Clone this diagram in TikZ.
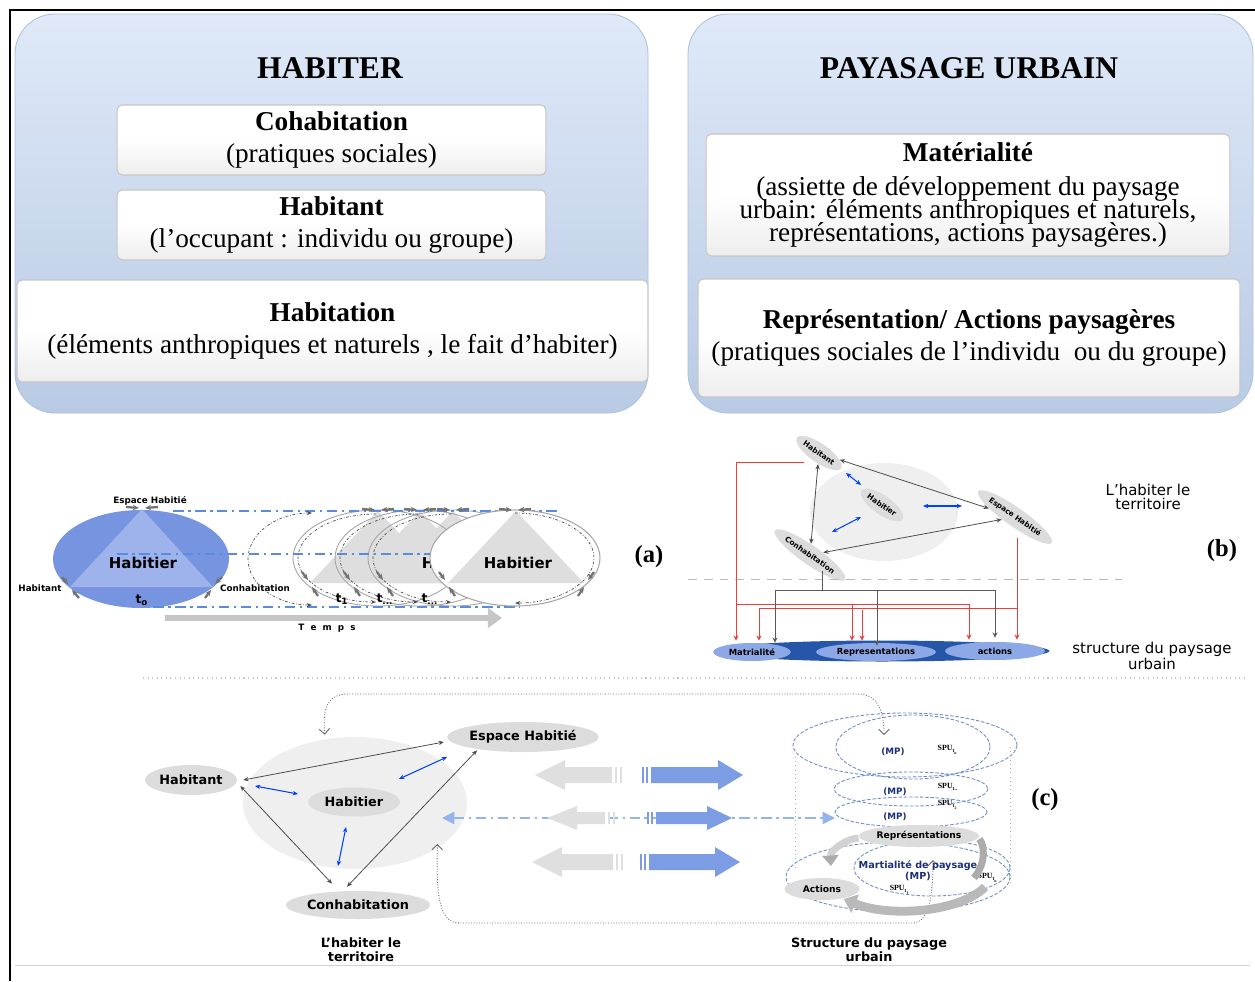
\documentclass[tikz,border=0pt]{standalone}
\usepackage{fontspec}
\setmainfont{Liberation Serif}
\newfontfamily\dejavu{DejaVu Sans}
\usetikzlibrary{arrows.meta,shapes.geometric,calc,positioning}

\definecolor{panelTop}{HTML}{DFE9F8}
\definecolor{panelBot}{HTML}{B9CAE4}
\definecolor{panelLine}{HTML}{AFC2DF}
\definecolor{ellBlue}{HTML}{7694DF}
\definecolor{triBlue}{HTML}{9EB2EB}
\definecolor{dashBlue}{HTML}{5A8BDF}
\definecolor{paleDash}{HTML}{94B4EC}
\definecolor{bigBlue}{HTML}{7C9CE4}
\definecolor{barBlue}{HTML}{2656A8}
\definecolor{subBlue}{HTML}{8DA8E6}
\definecolor{navyTxt}{HTML}{1B2F7A}
\definecolor{ovalGray}{HTML}{DCDCDC}
\definecolor{bgGray}{HTML}{EFEFEF}
\definecolor{triGray}{HTML}{DEDEDE}
\definecolor{redLine}{HTML}{E8403C}
\definecolor{spuBlue}{HTML}{6F8FC8}

\tikzset{
  panel/.style={rounded corners=0.8cm, top color=panelTop, bottom color=panelBot, draw=panelLine, line width=0.5pt},
  wbox/.style={rounded corners=3pt, top color=white, bottom color=gray!14, middle color=white, draw=gray!45, line width=0.6pt, align=center, font=\fontsize{15.5}{18}\selectfont},
  ptitle/.style={font=\bfseries\fontsize{18}{20}\selectfont},
  lblA/.style={font=\dejavu\bfseries\fontsize{5}{6}\selectfont, inner sep=1pt},
  hbrTxt/.style={font=\dejavu\bfseries\fontsize{8.5}{10}\selectfont},
  tTxt/.style={font=\dejavu\bfseries\fontsize{7}{8}\selectfont, inner sep=1pt},
  ddash/.style={dashBlue, dash pattern=on 6pt off 2.5pt on 1.5pt off 2.5pt, line width=0.9pt},
  darc/.style={black!70, dash pattern=on 1.5pt off 1pt on 0.4pt off 1pt, line width=0.4pt},
  vtx/.style={-{Stealth[length=3.5pt,width=3pt]}, line width=1.3pt, black!55},
  ovB/.style={ellipse, fill=ovalGray, rotate=-35, inner sep=0.5pt, minimum height=0.38cm, font=\dejavu\bfseries\fontsize{4.2}{5}\selectfont},
  subB/.style={ellipse, fill=subBlue, minimum height=0.36cm, inner sep=0pt, font=\dejavu\bfseries\fontsize{4.8}{5}\selectfont},
  garr/.style={{Stealth[length=3pt,width=2.5pt]}-{Stealth[length=3pt,width=2.5pt]}, black!70, line width=0.45pt},
  barr/.style={{Stealth[length=3pt,width=2.5pt]}-{Stealth[length=3pt,width=2.5pt]}, blue!75!cyan, line width=0.6pt},
  redl/.style={redLine, line width=0.5pt, -{Stealth[length=3pt,width=3pt]}},
  gline/.style={black!65, line width=0.5pt},
  gtip/.style={black!65, line width=0.5pt, -{Stealth[length=3pt,width=3pt]}},
  sideTxt/.style={font=\dejavu\fontsize{8.5}{8}\selectfont, align=center},
  labTag/.style={font=\bfseries\fontsize{14}{16}\selectfont},
  ovC/.style={ellipse, fill=ovalGray, inner sep=0pt, font=\dejavu\bfseries\fontsize{7.3}{8}\selectfont},
  capC/.style={font=\dejavu\bfseries\fontsize{7.3}{8}\selectfont, align=center},
  dotc/.style={densely dotted, black!60, line width=0.5pt, {Straight Barb[length=3pt]}-{Straight Barb[length=3pt]}},
  spu/.style={spuBlue, dash pattern=on 2pt off 1pt, line width=0.5pt},
  mpTxt/.style={font=\dejavu\bfseries\fontsize{5}{6}\selectfont, text=navyTxt, inner sep=0.5pt, align=center},
  spuTxt/.style={font=\bfseries\fontsize{4.5}{5}\selectfont, inner sep=0.5pt},
  ovS/.style={ellipse, fill=ovalGray, inner sep=0pt, font=\dejavu\bfseries\fontsize{5.2}{6}\selectfont}
}

\begin{document}
\begin{tikzpicture}[x=0.02cm,y=-0.02cm]
\useasboundingbox (0,0) rectangle (1255,981);
\fill[white] (0,0) rectangle (1255,981);
\draw[line width=1.5pt] (10,981) -- (10,10) -- (1255,10);
\draw[gray!35] (15,965) -- (1250,965);

% top panels
\draw[panel] (15,14) rectangle (648,413);
\node[ptitle] (habiter) at (330,68) {HABITER};
\node[wbox, minimum width=8.58cm, minimum height=1.4cm] (cohab) at (331.5,140) {\textbf{Cohabitation}\\(pratiques sociales)};
\node[wbox, minimum width=8.58cm, minimum height=1.4cm] (habitant) at (331.5,225) {\textbf{Habitant}\\(l’occupant : individu ou groupe)};
\node[wbox, minimum width=12.62cm, minimum height=2.04cm] (habitation) at (332.5,331) {\textbf{Habitation}\\(éléments anthropiques et naturels , le fait d’habiter)};

\draw[panel] (688,14) rectangle (1253,413);
\node[ptitle] (paysage) at (969,68) {PAYASAGE URBAIN};
\node[wbox, minimum width=10.48cm, minimum height=2.44cm] (materialite) at (968,195) {\textbf{Matérialité}\\[1pt](assiette de développement du paysage\\[-5pt]urbain: éléments anthropiques et naturels,\\[-5pt]représentations, actions paysagères.)};
\node[wbox, minimum width=10.84cm, minimum height=2.36cm] (representation) at (969,338) {\textbf{Représentation/ Actions paysagères}\\(pratiques sociales de l’individu \ ou du groupe)};

% (a)
\fill[ellBlue] (141,559) ellipse [x radius=88, y radius=49];
\fill[triBlue] (142,509) -- (70,587) -- (213,587) -- cycle;
\node[lblA] (espA) at (150,501) {Espace Habitié};
\node[hbrTxt] (hbrA) at (143,563) {Habitier};
\node[lblA] (habA) at (40,588) {Habitant};
\node[lblA] (conA) at (255,588) {Conhabitation};
\node[tTxt] (t0) at (142,600) {t\textsubscript{o}};
\draw[vtx] (126,507) -- (139,508);
\draw[vtx] (158,507) -- (145,508);
\draw[vtx] (62,577) -- (68,584);
\draw[vtx] (79,598) -- (72,590);
\draw[vtx] (222,577) -- (215,584);
\draw[vtx] (205,598) -- (211,590);

\foreach \cx in {378,420,453}
  \fill[triGray] (\cx,511) -- (\cx-68,583) -- (\cx+68,583) -- cycle;
\node[hbrTxt] (hbrA3) at (456,563) {Habitier};
\foreach \cx in {378,420,453}
  \draw[gray!70, line width=0.5pt] (\cx,558) ellipse [x radius=85, y radius=48];
\draw[ddash] (173,511) -- (560,511);
\draw[ddash] (117,554) -- (440,554);
\draw[ddash] (153,607) -- (520,607);
\draw[darc, {Stealth[length=3pt]}-{Stealth[length=3pt]}] (312,513) arc [start angle=270, end angle=90, x radius=64, y radius=46];
\foreach \cx in {378,420,453}
  \draw[darc, -{Stealth[length=3pt]}] (\cx-2,514) arc [start angle=270, end angle=90, x radius=78, y radius=44];

\fill[white] (515,558) ellipse [x radius=85, y radius=48];
\fill[triGray] (516,511) -- (448,583) -- (584,583) -- cycle;
\node[hbrTxt] (hbrA4) at (518,563) {Habitier};
\draw[gray!70, line width=0.6pt] (515,558) ellipse [x radius=85, y radius=48];
\draw[darc, -{Stealth[length=3pt]}] (515,513) arc [start angle=270, end angle=450, x radius=79, y radius=45];
\foreach \cx in {378,420,453,515} {
  \draw[vtx] (\cx-76,572) -- (\cx-70,580);
  \draw[vtx] (\cx-60,596) -- (\cx-66,587);
  \draw[vtx] (\cx-16,509) -- (\cx-3,510);
  \draw[vtx] (\cx+16,509) -- (\cx+3,510);
}
\draw[vtx] (594,572) -- (588,580);
\draw[vtx] (578,596) -- (584,587);
\node[tTxt] (t1) at (342,599) {t\textsubscript{1}};
\node[tTxt] (t2) at (385,599) {t\textsubscript{...}};
\node[tTxt] (t3) at (430,599) {t\textsubscript{...}};
\draw[gray!45, line width=3.5pt, -{Triangle[length=8pt,width=11pt]}] (165,618) -- (502,618);
\node[lblA] (temps) at (327,628) {T\ \ e\ \ m\ \ p\ \ s};
\node[labTag] (tagA) at (649,557) {(a)};

% (b)
\fill[bgGray] (884,512) ellipse [x radius=74, y radius=49];
\node[ovB, minimum width=1.0cm] (habB) at (819,453) {Habitant};
\node[ovB, minimum width=0.95cm] (hbrB) at (882,505) {Habitier};
\node[ovB, minimum width=1.55cm] (espB) at (1015,517) {Espace Habitié};
\node[ovB, minimum width=1.3cm] (conB) at (810,555) {Conhabitation};
\draw[garr] (habB) -- (espB);
\draw[garr] (habB) -- (conB);
\draw[garr] (conB) -- (espB);
\draw[barr] ($(hbrB)+(-36,-32)$) -- ($(hbrB)+(-21,-20)$);
\draw[barr] ($(hbrB)+(41,1)$) -- ($(hbrB)+(80,1)$);
\draw[barr] ($(hbrB)+(-50,27)$) -- ($(hbrB)+(-21,12)$);
\node[sideTxt] (lhB) at (1148,497) {L’habiter le\\territoire};
\node[labTag] (tagB) at (1222,551) {(b)};
\draw[gray!55, dash pattern=on 5pt off 4pt, line width=0.5pt] (688,579) -- (1122,579);

\node[ellipse, fill=barBlue, minimum width=6.7cm, minimum height=0.42cm, inner sep=0pt] (barB) at (882,651) {};
\node[subB, minimum width=1.55cm] (matB) at (752,652) {Matrialité};
\node[subB, minimum width=2.4cm] (repB) at (876,652) {Representations};
\node[subB, minimum width=2cm] (actB) at (995,651) {actions};
\node[sideTxt] (spB) at (1152,656) {structure du paysage\\urbain};

\draw[redl] ($(habB)+(-15,9)$) -| ($(matB.north)+(-16,-2)$);
\draw[redl] ($(matB.north)+(-16,-38)$) -| ($(repB.north)+(-24,-2)$);
\draw[redl] ($(repB.north)+(-24,-38)$) -| ($(actB.north)+(-26,-2)$);
\draw[redl] ($(espB)+(2,21)$) -- ($(actB.north)+(22,-2)$);
\draw[redl] ($(actB.north)+(22,-33)$) -| ($(matB.north)+(7,-2)$);
\draw[redl] ($(repB.north)+(-14,-33)$) -- ($(repB.north)+(-14,-2)$);
\coordinate (splitB) at (822,590);
\draw[gline] ($(conB)+(12,16)$) -- (splitB);
\draw[gtip] (splitB) -| ($(matB.north)+(23,0)$);
\draw[gtip] (splitB) -| ($(repB.north)+(1,3)$);
\draw[gtip] (splitB) -| ($(actB.north)+(0,-4)$);

\draw[gray!45, dotted, line width=0.6pt] (143,678) -- (1248,678);

% (c)
\node[ellipse, fill=bgGray, minimum width=4.48cm, minimum height=2.64cm] (bgC) at (355,803) {};
\node[ovC, minimum width=1.84cm, minimum height=0.6cm] (habC) at (191,780) {Habitant};
\node[ovC, minimum width=2.32cm, minimum height=0.6cm] (espC) at (523,737) {Espace Habitié};
\node[ovC, minimum width=1.84cm, minimum height=0.58cm] (hbrC) at (354,802) {Habitier};
\node[ovC, minimum width=2.32cm, minimum height=0.56cm] (conC) at (358,905) {Conhabitation};
\draw[garr] ($(habC.east)+(6,0)$) -- ($(espC.west)+(-3,5)$);
\draw[garr] ($(habC.east)+(3,6)$) -- ($(conC.north)+(-26,-7)$);
\draw[garr] ($(conC.north)+(-11,-4)$) -- ($(espC.south)+(-46,-2)$);
\draw[barr] ($(hbrC)+(-99,-16)$) -- ($(hbrC)+(-56,-8)$);
\draw[barr] ($(hbrC)+(45,-23)$) -- ($(hbrC)+(93,-45)$);
\draw[barr] ($(hbrC)+(-8,25)$) -- ($(hbrC)+(-16,64)$);
\node[capC] (lhC) at (361,950) {L’habiter le\\territoire};

\coordinate (spuTop) at (884,735);
\coordinate (spuMid) at (933,860);
\draw[dotc] ($(bgC.north)+(-30,-2)$) .. controls (322,708) and (328,694) .. (348,694) -- (858,694) .. controls (878,694) and (884,712) .. (spuTop);
\draw[dotc] ($(bgC.south east)+(3,-6)$) .. controls (436,900) and (440,923) .. (460,923) -- (912,923) .. controls (928,923) and (933,900) .. (spuMid);

\coordinate (lftC) at (442,818);
\coordinate (rgtC) at (835,818);
\draw[ddash, paleDash, line width=1pt, {Triangle[length=7pt,width=7pt]}-{Triangle[length=7pt,width=7pt]}] (lftC) -- (rgtC);
\foreach \yy/\gl/\gr/\bl/\br/\hh/\bh in {775/535/612/651/743/15/8, 818/547/605/656/732/12/6, 862/532/613/649/740/15/8} {
  \fill[gray!25] (\gl,\yy) -- (\gl+30,\yy-\hh) -- (\gl+30,\yy-\bh) -- (\gr,\yy-\bh) -- (\gr,\yy+\bh) -- (\gl+30,\yy+\bh) -- (\gl+30,\yy+\hh) -- cycle;
  \fill[gray!25] (\gr+3,\yy-\bh) rectangle (\gr+5,\yy+\bh);
  \fill[gray!25] (\gr+8,\yy-\bh) rectangle (\gr+10,\yy+\bh);
  \fill[bigBlue] (\bl-9,\yy-\bh) rectangle (\bl-7,\yy+\bh);
  \fill[bigBlue] (\bl-5,\yy-\bh) rectangle (\bl-3,\yy+\bh);
  \fill[bigBlue] (\bl,\yy-\bh) -- (\br-25,\yy-\bh) -- (\br-25,\yy-\hh) -- (\br,\yy) -- (\br-25,\yy+\hh) -- (\br-25,\yy+\bh) -- (\bl,\yy+\bh) -- cycle;
}

% SPU stack
\draw[gray!60, dotted] (795,757) -- (795,867);
\draw[gray!60, dotted] (1010,747) -- (1010,883);
\draw[spu] (905,745) ellipse [x radius=112, y radius=32];
\draw[spu] (913,747) ellipse [x radius=77, y radius=32];
\draw[spu] (911,789) ellipse [x radius=77, y radius=17];
\draw[spu] (911,812) ellipse [x radius=76, y radius=15];
\draw[spu] (898,877) ellipse [x radius=112, y radius=35];
\draw[spu] (932,868) ellipse [x radius=78, y radius=28];
\node[mpTxt] (mp1) at (893,752) {(MP)};
\node[spuTxt] (spu1) at (948,750) {SPU\textsubscript{t\textsubscript{n}}};
\node[spuTxt] (spu2) at (948,787) {SPU\textsubscript{t..}};
\node[mpTxt] (mp2) at (895,792) {(MP)};
\node[spuTxt] (spu3) at (948,805) {SPU\textsubscript{t\textsubscript{2}}};
\node[mpTxt] (mp3) at (895,817) {(MP)};
\node[ovS, minimum width=1.78cm, minimum height=0.44cm] (repC) at (919,836) {Représentations};
\node[ovS, minimum width=1.5cm, minimum height=0.44cm] (actC) at (822,889) {Actions};
\node[mpTxt, font=\dejavu\bfseries\fontsize{5.5}{6}\selectfont] (mlC) at (918,871) {Martialité de paysage\\(MP)};
\node[spuTxt] (spu4) at (900,890) {SPU\textsubscript{t\textsubscript{1}}};
\node[spuTxt] (spu5) at (988,878) {SPU\textsubscript{t\textsubscript{n}}};
\draw[gray!35, line width=4pt, -{Triangle[length=6pt,width=9pt, color=gray!65]}] ($(repC.west)+(0,2)$) .. controls (848,838) and (830,850) .. (831,866);
\draw[gray!65, line width=4pt] ($(repC.east)+(0,3)$) .. controls (984,844) and (987,862) .. (974,878);
\draw[gray!55, line width=5pt, -{Triangle[length=7pt,width=11pt]}] (985,887) .. controls (960,912) and (890,918) .. ($(actC.east)+(-16,10)$);
\node[capC] (spC) at (869,950) {Structure du paysage\\urbain};
\node[labTag] (tagC) at (1045,800) {(c)};
\end{tikzpicture}
\end{document}
